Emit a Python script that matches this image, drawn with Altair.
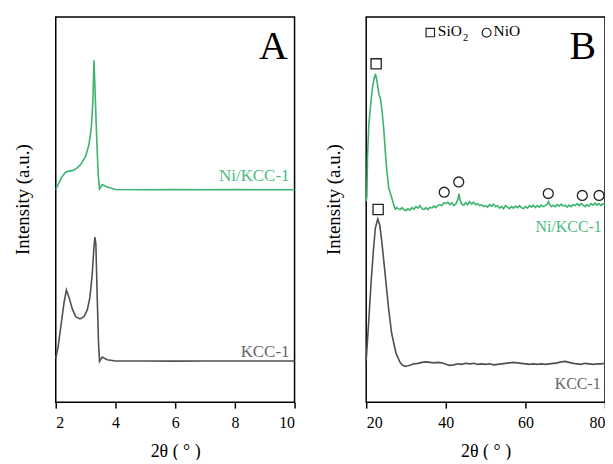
import altair as alt
import pandas as pd

FONT = "Liberation Serif"
GREEN = "#3cb46e"
GREEN_TXT = "#4dbb80"
GRAY = "#505050"
GRAY_TXT = "#666666"

# ---------------- Panel A (low angle) ----------------
a_green_x = [2.0, 2.1, 2.2, 2.333, 2.45, 2.556, 2.7, 2.833, 3.0, 3.111, 3.189, 3.244, 3.278,
             3.311, 3.367, 3.422, 3.467, 3.556, 3.722, 4.0, 5.0, 6.0, 7.0, 8.0, 9.0, 10.0]
a_green_y = [213.7, 220.0, 226.0, 231.3, 232.2, 232.7, 235.0, 238.7, 247.0, 258.7, 275.3, 302.0, 343.7,
             318.7, 268.7, 228.7, 214.3, 218.7, 216.3, 213.7, 213.5, 213.6, 213.4, 213.6, 213.5, 213.5]

a_gray_x = [2.0, 2.078, 2.167, 2.278, 2.356, 2.444, 2.556, 2.667, 2.811, 2.944, 3.056, 3.144, 3.222,
            3.278, 3.311, 3.344, 3.389, 3.433, 3.467, 3.556, 3.722, 4.0, 5.0, 6.0, 7.0, 8.0, 9.0, 10.0]
a_gray_y = [43.7, 55.3, 75.3, 100.3, 112.7, 105.3, 93.7, 86.0, 83.7, 86.0, 92.7, 105.3, 128.7,
            155.3, 166.0, 158.7, 105.3, 58.7, 41.0, 45.3, 42.7, 41.3, 41.4, 41.2, 41.3, 41.4, 41.3, 41.3]

# ---------------- Panel B (wide angle) ----------------
b_green_x = [20.0, 20.17, 20.33, 20.67, 21.08, 21.5, 21.92, 22.33, 22.75, 23.17, 23.58, 24.0, 24.42,
             24.83, 25.25, 25.67, 26.08, 26.67, 27.0, 27.33, 27.67,
             28.0, 28.5, 29.0, 29.5, 30.0, 30.5, 31.0, 31.5, 32.0, 32.5, 33.0, 33.5, 34.0, 34.5,
             35.0, 35.5, 36.0, 36.5, 37.0, 37.5, 38.0, 38.5, 39.0, 39.5, 40.0, 40.5, 41.0, 41.5,
             42.0, 42.5, 43.0, 43.3, 43.6, 44.0, 44.5, 45.0, 45.5, 46.0, 46.5, 47.0, 47.5, 48.0,
             48.5, 49.0, 49.5, 50.0, 50.5, 51.0, 51.5, 52.0, 52.5, 53.0, 53.5, 54.0, 54.5, 55.0,
             55.5, 56.0, 56.5, 57.0, 57.5, 58.0, 58.5, 59.0, 59.5, 60.0, 60.5, 61.0, 61.5, 62.0,
             62.5, 63.0, 63.5, 64.0, 64.5, 65.0, 65.5, 65.8, 66.2, 66.5, 67.0, 67.5, 68.0, 68.5,
             69.0, 69.5, 70.0, 70.5, 71.0, 71.5, 72.0, 72.5, 73.0, 73.5, 74.0, 74.5, 75.0, 75.5,
             76.0, 76.5, 77.0, 77.5, 78.0, 78.5, 79.0, 79.5, 80.0]
b_green_y = [202.0, 207.0, 247.0, 280.0, 297.0, 314.0, 324.0, 330.0, 322.0, 310.0, 305.0, 292.0, 274.0,
             250.0, 230.0, 215.0, 210.0, 202.0, 197.0, 194.0, 195.5,
             194.5, 193.5, 195.5, 193.0, 192.5, 194.5, 193.0, 195.5, 194.0, 196.5, 195.0, 197.5, 194.5, 193.5,
             195.5, 193.5, 196.0, 195.0, 197.0, 195.5, 197.5, 198.5, 197.5, 200.5, 199.5, 201.0, 198.5, 200.5,
             197.5, 199.0, 203.5, 209.5, 203.0, 199.0, 198.0, 200.5, 198.5, 201.5, 199.0, 201.0, 198.5, 199.5,
             197.5, 198.5, 196.5, 197.5, 196.0, 198.5, 197.0, 199.0, 196.5, 197.5, 195.0, 196.5, 194.5, 197.5,
             196.0, 194.5, 196.5, 195.0, 197.0, 195.5, 197.5, 195.5, 194.5, 196.5, 195.0, 197.5, 196.0, 198.0,
             195.5, 197.5, 196.0, 198.0, 196.5, 197.5, 199.0, 201.5, 198.0, 196.5, 198.0, 196.5, 198.5, 197.0,
             199.0, 197.0, 198.0, 196.0, 198.0, 196.5, 198.5, 197.5, 199.5, 197.5, 199.5, 198.0, 196.5, 198.5,
             197.0, 199.5, 198.0, 200.0, 198.0, 199.5, 197.5, 199.5, 198.5]

b_gray_x = [20.0, 20.6, 21.25, 21.8, 22.3, 22.9, 23.4, 23.9, 24.75, 25.6, 26.4, 27.5, 28.5, 29.0,
            29.75, 30.5, 31.0, 32.0, 33.0, 34.0, 35.0, 36.0, 37.0, 38.0, 39.0, 40.0, 41.0, 42.0,
            43.0, 44.0, 45.0, 46.0, 47.0, 48.0, 49.0, 50.0, 51.0, 52.0, 53.0, 54.0, 55.0, 56.0,
            57.0, 58.0, 59.0, 60.0, 61.0, 62.0, 63.0, 64.0, 65.0, 66.0, 67.0, 68.0, 69.0, 70.0,
            71.0, 72.0, 73.0, 74.0, 75.0, 76.0, 77.0, 78.0, 79.0, 80.0]
b_gray_y = [42.0, 79.0, 122.0, 152.0, 175.0, 184.0, 178.0, 162.0, 129.0, 95.0, 69.0, 49.0, 40.0, 37.5,
            36.0, 36.5, 37.0, 38.5, 39.0, 40.0, 40.5, 40.0, 39.5, 40.0, 39.5, 38.0, 37.0, 37.5,
            38.5, 38.0, 39.0, 38.5, 39.0, 38.0, 38.5, 38.0, 38.5, 37.5, 38.0, 38.5, 39.0, 39.5,
            40.0, 39.5, 39.0, 38.5, 38.0, 38.5, 38.0, 38.5, 38.0, 38.5, 39.0, 39.5, 40.5, 41.0,
            40.0, 39.0, 38.5, 38.0, 39.0, 38.5, 38.0, 38.5, 38.5, 39.0]

sio2_x = [22.5, 23.0]
sio2_y = [340.0, 193.7]
nio_x = [39.6, 43.25, 65.75, 74.3, 78.5]
nio_y = [211.0, 221.3, 209.7, 207.7, 207.7]

Y_DOMAIN = [0, 387]
W, H = 240, 387


def y_axis():
    return alt.Axis(title="Intensity (a.u.)", labels=False, ticks=False, domain=False, grid=False,
                    titleFont=FONT, titleFontSize=19, titleFontWeight="normal", titleColor="black",
                    titlePadding=23, titleY=183)


def x_axis(values, major_mod):
    return alt.Axis(title="2θ ( ° )", values=values, grid=False, domain=False,
                    labelExpr=f"datum.value % {major_mod} === 0 ? datum.label : ''",
                    tickSize={"condition": {"test": f"datum.value % {major_mod} !== 0", "value": 3}, "value": 6},
                    tickColor="black", tickWidth=1.5, labelFont=FONT, labelFontSize=16, labelColor="black",
                    labelPadding=6, titleFont=FONT, titleFontSize=18, titleFontWeight="normal",
                    titleColor="black", titlePadding=13)


def text_layer(label, x, y, size, color, align="right", baseline="alphabetic"):
    return alt.Chart(pd.DataFrame({"t": [label]})).mark_text(
        font=FONT, fontSize=size, color=color, align=align, baseline=baseline
    ).encode(x=alt.datum(x), y=alt.datum(y), text="t:N")


def panel(gx, gy, kx, ky, domain, values, major_mod, texts, extra=None):
    xs = alt.Scale(domain=domain, nice=False, zero=False)
    ys = alt.Scale(domain=Y_DOMAIN, nice=False, zero=False)
    green = alt.Chart(pd.DataFrame({"x": gx, "y": gy})).mark_line(color=GREEN, strokeWidth=1.6).encode(
        x=alt.X("x:Q", scale=xs, axis=x_axis(values, major_mod)),
        y=alt.Y("y:Q", scale=ys, axis=y_axis()),
    )
    gray = alt.Chart(pd.DataFrame({"x": kx, "y": ky})).mark_line(color=GRAY, strokeWidth=1.6).encode(
        x="x:Q", y="y:Q"
    )
    layers = [green, gray] + (extra or []) + texts
    return alt.layer(*layers).properties(width=W, height=H)


left = panel(a_green_x, a_green_y, a_gray_x, a_gray_y, [2, 10], [2, 3, 4, 5, 6, 7, 8, 9, 10], 2, [
    text_layer("A", 9.77, 345, 40, "black"),
    text_layer("Ni/KCC-1", 9.83, 222, 17, GREEN_TXT),
    text_layer("KCC-1", 9.83, 45, 17, GRAY_TXT),
])

squares = alt.Chart(pd.DataFrame({"x": sio2_x, "y": sio2_y})).mark_point(
    shape="square", filled=False, size=105, stroke="#222222", strokeWidth=1.3, opacity=1
).encode(x="x:Q", y="y:Q")
circles = alt.Chart(pd.DataFrame({"x": nio_x, "y": nio_y})).mark_point(
    shape="circle", filled=False, size=100, stroke="#222222", strokeWidth=1.3, opacity=1
).encode(x="x:Q", y="y:Q")

leg_sq = alt.Chart(pd.DataFrame({"x": [36.1], "y": [371.5]})).mark_point(
    shape="square", filled=False, size=72, stroke="#222222", strokeWidth=1.2, opacity=1
).encode(x="x:Q", y="y:Q")
leg_ci = alt.Chart(pd.DataFrame({"x": [50.25], "y": [371.3]})).mark_point(
    shape="circle", filled=False, size=80, stroke="#222222", strokeWidth=1.2, opacity=1
).encode(x="x:Q", y="y:Q")

right = panel(b_green_x, b_green_y, b_gray_x, b_gray_y, [20, 80],
              [20, 25, 30, 35, 40, 45, 50, 55, 60, 65, 70, 75, 80], 10, [
    text_layer("B", 77.75, 345, 40, "black"),
    text_layer("Ni/KCC-1", 79.2, 171, 16, GREEN_TXT),
    text_layer("KCC-1", 78.9, 13, 16, GRAY_TXT),
    text_layer("SiO", 38.0, 367.5, 15.5, "black", align="left"),
    text_layer("2", 44.3, 363, 10.5, "black", align="left"),
    text_layer("NiO", 52.0, 367.5, 15.5, "black", align="left"),
], extra=[squares, circles, leg_sq, leg_ci])

chart = alt.hconcat(left, right, spacing=25).properties(
    padding={"left": 5, "top": 7, "right": -4, "bottom": -3},
    background="white",
).configure_view(stroke="black", strokeWidth=1.5)

chart.save("out.html", embed_options={"renderer": "svg", "actions": False})
